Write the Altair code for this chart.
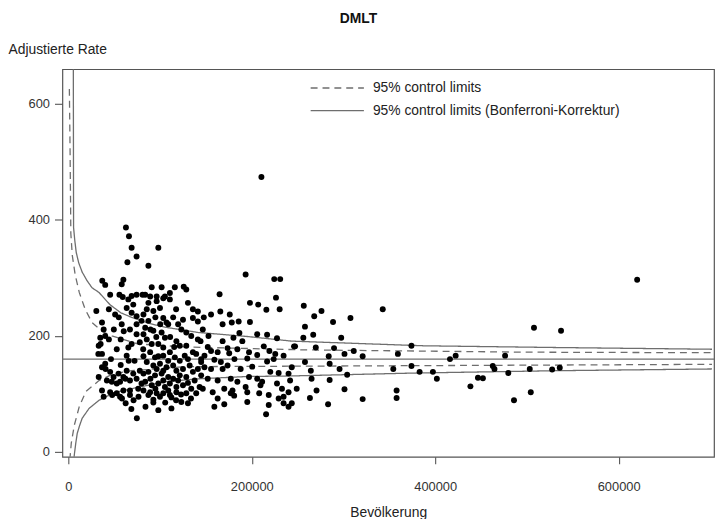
import altair as alt
import pandas as pd

# ---------------- scatter: population (Bevölkerung) and adjusted rate ----------------
pop = [
    62800, 66100, 69000, 74400, 64400, 98100, 87300, 37000, 40200, 60000,
    58200, 45600, 55700, 59300, 69000, 74400, 80900, 90900, 101700, 116100,
    125800, 128600, 83800, 96300, 105300, 110700,
    65400, 70800, 30500, 51000, 63600, 69000, 74400, 79800, 36700, 38500,
    58200, 34800, 40200, 67200, 74400, 33100, 65400, 69000, 77900, 81600,
    36700, 63600, 40200, 36700, 45600, 49300, 54700, 60000, 63600, 70800,
    77900, 33100, 42000, 47400, 56400, 67200, 74400, 79800, 36700, 45600,
    52800, 60000, 67200, 76200, 38500, 56400, 67200, 35200, 32700, 40600,
    62200, 47800, 58500, 68700, 74700,
    89200, 96300, 103500, 110700, 85500, 92700, 99900, 135800, 135800, 103500,
    107000, 81900, 87300, 83800, 92700, 108900, 101700, 105300, 123200, 128600,
    134000, 141200, 85500, 90900, 98100, 103500, 117800, 121500, 128600, 135800,
    89200, 94500, 103500, 110700, 116100, 121500, 126900, 139400, 144800, 85500,
    92700, 99900, 107000, 114300, 117800, 132300, 135800, 141200, 87300, 94500,
    101700, 108900, 114300, 121500, 128600, 137700, 83800, 90900, 98100, 105300,
    110700, 117800, 125000, 134000, 143100, 89200, 96300, 103500, 110700, 117800,
    128600, 139400, 99900, 112400, 87300, 98100, 112400, 123200, 130400, 84100,
    92700,
    87300, 94900, 100200, 114300, 119700, 95900, 111000, 115400, 81900, 98100,
    108900, 130400, 96300, 103500, 125000, 81900, 89500, 103500, 119700, 130400,
    94900, 108900, 122900, 81900, 92700, 105600, 117500, 133700, 76500, 71100,
    62500, 52800, 46500, 52800, 44200, 57100, 49600, 55000, 44200, 74400,
    60400, 72200, 57100, 65800, 81900, 89500, 117500, 125000, 130400, 141200,
    141200, 146600, 152000, 168200, 168200, 184300, 181100, 200500, 208100, 168200,
    210500, 193300, 224500, 231000, 164900, 226400, 198000, 207000, 215900, 230400,
    147700, 155600, 165700, 176000, 178200, 185700, 198000, 152800, 144100, 180000,
    186500, 189700, 205900, 216700, 227500, 246100, 155600, 162800, 173600, 175400,
    197000, 213100, 219200, 225600, 148400, 144800, 159200, 166300, 195100, 205900,
    216700, 223900, 234700, 148400, 155600, 173600, 187900, 197000, 220200, 240100,
    144800, 152000, 162800, 177100, 184300, 205900, 227500, 241800, 146600, 157400,
    170000, 179000, 193300, 232900, 240100, 162800, 180800, 195100, 218500, 229300,
    234700, 159200, 170000, 240100, 215600, 177100, 229300, 211300, 209500, 195100,
    218500, 234700,
    256700, 276000, 268100, 288600, 307600, 258000, 256200, 267000, 297500, 247200,
    269800, 289700, 311200, 301100, 283900, 320900, 258000, 284900, 295700, 264400,
    304000, 243600, 265200, 284900, 249000, 270600, 301100, 263400, 283200, 320900,
    243600, 342800, 374100, 359300, 416100, 422300, 476200, 507700, 537200, 620200,
    354300, 374100, 383000, 397500, 401800, 357900, 357900, 438400, 446600, 452000,
    462800, 464600, 479700, 485900, 503100, 504200, 527500, 535800,
]
rate = [
    387, 372, 352, 337, 327, 352, 321, 295, 288, 297,
    289, 271, 271, 267, 269, 271, 271, 284, 284, 284,
    285, 280, 271, 268, 268, 274,
    263, 254, 243, 237, 248, 240, 234, 226, 223, 211,
    220, 197, 200, 211, 203, 183, 180, 186, 189, 177,
    169, 166, 152, 146, 138, 129, 135, 129, 140, 135,
    140, 129, 123, 121, 121, 123, 126, 118, 106, 103,
    101, 106, 106, 109, 95, 95, 98, 186, 169, 143,
    126, 98, 92, 74, 58,
    268, 260, 265, 263, 246, 243, 248, 246, 231, 231,
    223, 237, 226, 214, 209, 220, 206, 197, 211, 206,
    200, 194, 194, 186, 186, 180, 191, 183, 183, 172,
    172, 163, 166, 172, 163, 157, 166, 169, 160, 155,
    149, 152, 146, 149, 140, 149, 138, 143, 138, 132,
    135, 129, 126, 132, 129, 123, 121, 115, 118, 112,
    118, 112, 115, 109, 112, 103, 101, 101, 98, 103,
    101, 101, 95, 94, 98, 72, 75, 86, 84, 78,
    85,
    257, 232, 220, 232, 220, 198, 198, 181, 165, 165,
    157, 160, 143, 140, 143, 135, 126, 123, 123, 119,
    109, 106, 99, 106, 90, 85, 89, 92, 95, 89,
    84, 118, 160, 177, 194, 194, 211, 232, 246, 220,
    208, 157, 150, 157, 203, 211, 246, 228, 257, 242,
    225, 211, 181, 191, 220, 177, 160, 147, 101, 143,
    474, 306, 298, 298, 272, 266, 257, 254, 245, 246,
    232, 237, 242, 237, 223, 225, 224, 200, 191, 197,
    205, 191, 203, 202, 196, 182, 174, 172, 179, 170,
    172, 182, 174, 169, 166, 155, 159, 155, 161, 167,
    156, 160, 166, 146, 143, 149, 143, 129, 138, 135,
    132, 126, 123, 126, 121, 126, 118, 123, 109, 103,
    109, 106, 112, 109, 103, 92, 97, 86, 81, 92,
    84, 78, 82, 78, 65, 101, 136, 121, 115, 103,
    98, 95,
    252, 243, 234, 224, 231, 216, 197, 202, 197, 182,
    180, 179, 174, 169, 165, 165, 155, 152, 143, 140,
    133, 146, 126, 124, 109, 106, 108, 93, 82, 91,
    84, 246, 183, 169, 160, 166, 166, 214, 209, 297,
    143, 148, 138, 138, 126, 106, 93, 113, 128, 127,
    148, 143, 136, 89, 143, 103, 142, 145,
]

# ---------------- control limits ----------------
LBL_95 = "95% control limits"
LBL_BONF = "95% control limits (Bonferroni-Korrektur)"

bonf_upper_n = [5400, 5700, 7000, 8600, 11300, 15100, 20500, 25900, 33400, 45300,
                57100, 69000, 87300, 105600, 141200, 195100, 243600, 387000, 531500, 701800]
bonf_upper_v = [700, 387, 365, 344, 326, 310, 295, 283, 275, 254,
                240, 232, 222, 215, 206, 199, 191, 183, 180, 177]

bonf_lower_n = [5400, 6500, 8100, 9700, 12400, 15100, 22600, 33400, 49600, 69000,
                105600, 141200, 195100, 243600, 378400, 531500, 701800]
bonf_lower_v = [-27, -5, 15, 32, 46, 58, 75, 89, 102, 109,
                121, 126, 130, 131, 136, 140, 143]

ci_upper_n = [1100, 1900, 2700, 4300, 7500, 11900, 18300, 25900, 36700, 47400,
              76500, 127200, 254400, 494800, 701800]
ci_upper_v = [626, 518, 377, 339, 305, 275, 246, 223, 208, 200,
              186, 181, 176, 172, 171]

ci_lower_n = [1600, 3200, 6500, 11900, 19100, 33400, 49600, 69000, 127200, 279200, 701800]
ci_lower_v = [-14, 15, 46, 78, 104, 123, 135, 140, 147, 148, 151]

center_rate = [160]

x_ticks = [0, 200000, 400000, 600000]
y_ticks = [0, 200, 400, 600]

# ---------------- build tables ----------------
pts = pd.DataFrame({"pop": pop, "rate": rate})

rows = []
for cid, lbl, ns, vs in [
    ("bu", LBL_BONF, bonf_upper_n, bonf_upper_v),
    ("bl", LBL_BONF, bonf_lower_n, bonf_lower_v),
    ("cu", LBL_95, ci_upper_n, ci_upper_v),
    ("cl", LBL_95, ci_lower_n, ci_lower_v),
]:
    for i, (n, v) in enumerate(zip(ns, vs)):
        rows.append({"curve": cid, "kind": lbl, "n": n, "v": v, "o": i})
curves = pd.DataFrame(rows)
center = pd.DataFrame({"c": center_rate})

FONT = "Liberation Sans"
xscale = alt.Scale(domain=[-6500, 704000], nice=False, zero=False)
yscale = alt.Scale(domain=[-8.5, 660], nice=False, zero=False)

xaxis = alt.Axis(values=x_ticks, format="d", title="Bevölkerung",
                 tickSize=7, labelPadding=17, titlePadding=12,
                 labelFontSize=13, titleFontSize=14, titleFontWeight="normal")
yaxis = alt.Axis(values=y_ticks, format="d", title="Adjustierte Rate",
                 tickSize=8, labelPadding=5, labelFontSize=13,
                 titleFontSize=14, titleFontWeight="normal",
                 titleAngle=0, titleAlign="left", titleBaseline="bottom",
                 titleX=-55, titleY=-13)

base_pts = alt.Chart(pts).mark_circle(size=36, color="black", opacity=1, clip=True).encode(
    x=alt.X("pop:Q", scale=xscale, axis=xaxis),
    y=alt.Y("rate:Q", scale=yscale, axis=yaxis),
)

lines = alt.Chart(curves).mark_line(clip=True, strokeWidth=1.3, color="#6e6e6e").encode(
    x=alt.X("n:Q", scale=xscale),
    y=alt.Y("v:Q", scale=yscale),
    detail="curve:N",
    order="o:Q",
    strokeDash=alt.StrokeDash(
        "kind:N",
        scale=alt.Scale(domain=[LBL_95, LBL_BONF], range=[[7, 5], [1, 0]]),
        legend=alt.Legend(
            title=None, orient="none", legendX=250, legendY=10,
            symbolType="stroke", symbolSize=2900, symbolStrokeWidth=1.3,
            symbolStrokeColor="#6e6e6e", clipHeight=18, rowPadding=5,
            labelFontSize=14, labelFont=FONT, labelColor="#222",
            labelOffset=8, padding=0, labelLimit=0,
        ),
    ),
)

center_rule = alt.Chart(center).mark_rule(color="#6e6e6e", strokeWidth=1.3).encode(
    y=alt.Y("c:Q", scale=yscale)
)

chart = alt.layer(lines, center_rule, base_pts).properties(
    width=659,
    height=392,
    autosize=alt.AutoSizeParams(type="none"),
    padding={"left": 55, "top": 59, "right": 2, "bottom": 60},
    title=alt.TitleParams("DMLT", fontSize=14, fontWeight="bold", font=FONT,
                          anchor="middle", dx=-30, offset=17, color="#111"),
).configure_view(
    stroke="#555", strokeWidth=1.2
).configure_axis(
    labelFont=FONT, titleFont=FONT, labelColor="#333", titleColor="#222",
    tickColor="#555", domain=False, grid=False, tickWidth=1.1,
)

chart.save("out.html", embed_options={"renderer": "svg", "actions": False})
